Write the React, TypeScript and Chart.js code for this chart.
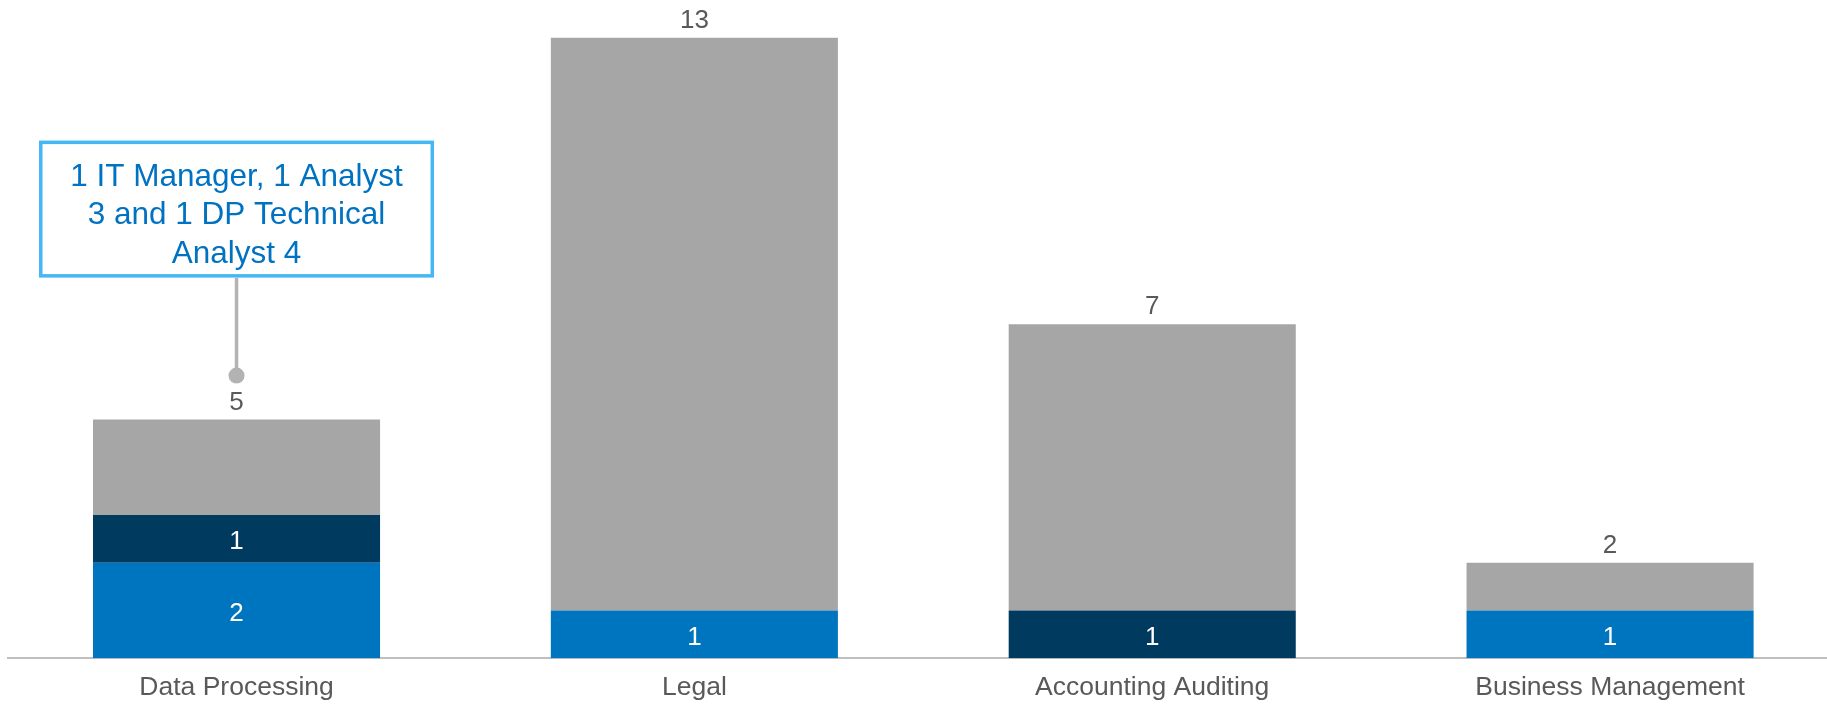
import React, { useEffect, useRef } from "react";
import { Chart, registerables } from "chart.js";

Chart.register(...registerables);

// ---- data ----
const categories = ["Data Processing", "Legal", "Accounting Auditing", "Business Management"];
const blueValues = [2, 1, null, 1];
const navyValues = [1, null, 1, null];
const grayValues = [2, 12, 6, 1];
const annotationLines = ["1 IT Manager, 1 Analyst", "3 and 1 DP Technical", "Analyst 4"];
const annotationCategoryIndex = 0;

// ---- styles ----
const BLUE = "#0075BF";
const NAVY = "#003A5F";
const GRAY = "#A6A6A6";
const TEXT_GRAY = "#595959";
const FONT = "'Liberation Sans', Arial, sans-serif";

const labelsPlugin = {
  id: "labelsPlugin",
  afterDatasetsDraw(chart: any) {
    const ctx = chart.ctx;
    const yScale = chart.scales.y;
    const xScale = chart.scales.x;
    ctx.save();
    ctx.font = `26px ${FONT}`;
    ctx.textAlign = "center";
    ctx.textBaseline = "middle";
    // inner labels for blue and navy
    [0, 1].forEach((di) => {
      const meta = chart.getDatasetMeta(di);
      const data = chart.data.datasets[di].data;
      meta.data.forEach((el: any, i: number) => {
        const v = data[i];
        if (v == null || v === 0) return;
        ctx.fillStyle = "#FFFFFF";
        ctx.fillText(String(v), el.x, (el.y + el.base) / 2 + 3);
      });
    });
    // totals
    categories.forEach((_, i) => {
      const total =
        (blueValues[i] || 0) + (navyValues[i] || 0) + (grayValues[i] || 0);
      const x = xScale.getPixelForValue(i);
      const y = yScale.getPixelForValue(total);
      ctx.fillStyle = TEXT_GRAY;
      ctx.fillText(String(total), x, y - 17);
    });

    // annotation callout
    const ai = annotationCategoryIndex;
    const aTotal =
      (blueValues[ai] || 0) + (navyValues[ai] || 0) + (grayValues[ai] || 0);
    const ax = xScale.getPixelForValue(ai);
    const topY = yScale.getPixelForValue(aTotal);
    const dotY = topY - 44;
    const boxBottom = topY - 142;
    const boxH = 137;
    const boxW = 395;
    const boxTop = boxBottom - boxH;
    const lw = 3.5;
    // connector
    ctx.strokeStyle = "#B3B3B3";
    ctx.lineWidth = 3.5;
    ctx.beginPath();
    ctx.moveTo(ax, boxBottom);
    ctx.lineTo(ax, dotY);
    ctx.stroke();
    ctx.fillStyle = "#B3B3B3";
    ctx.beginPath();
    ctx.arc(ax, dotY, 8, 0, Math.PI * 2);
    ctx.fill();
    // box
    ctx.fillStyle = "#FFFFFF";
    ctx.fillRect(ax - boxW / 2, boxTop, boxW, boxH);
    ctx.strokeStyle = "#45B7F5";
    ctx.lineWidth = lw;
    ctx.strokeRect(ax - boxW / 2 + lw / 2, boxTop + lw / 2, boxW - lw, boxH - lw);
    // text
    ctx.fillStyle = "#0072C1";
    ctx.font = `31.5px ${FONT}`;
    ctx.textBaseline = "alphabetic";
    annotationLines.forEach((line, k) => {
      ctx.fillText(line, ax, boxTop + 45 + k * 38.5);
    });
    ctx.restore();
  },
};

export default function App() {
  const ref = useRef<HTMLCanvasElement | null>(null);
  useEffect(() => {
    document.body.style.margin = "0";
    const canvas = ref.current!;
    const chart = new Chart(canvas, {
      type: "bar",
      data: {
        labels: categories,
        datasets: [
          { label: "Blue", data: blueValues as any, backgroundColor: BLUE },
          { label: "Navy", data: navyValues as any, backgroundColor: NAVY },
          { label: "Gray", data: grayValues as any, backgroundColor: GRAY },
        ],
      },
      options: {
        responsive: false,
        animation: false,
        devicePixelRatio: 1,
        layout: { padding: { left: 7.6, right: 1, top: 14, bottom: 0 } },
        datasets: {
          bar: { barPercentage: 0.627, categoryPercentage: 1 },
        },
        plugins: {
          legend: { display: false },
          tooltip: { enabled: false },
          title: { display: false },
        },
        scales: {
          x: {
            stacked: true,
            grid: { display: false, drawTicks: false },
            border: { display: true, color: "#BFBFBF", width: 2 },
            ticks: {
              color: TEXT_GRAY,
              font: { family: FONT, size: 26.5, lineHeight: 1.2 },
              padding: 14,
              maxRotation: 0,
              autoSkip: false,
            },
          },
          y: {
            stacked: true,
            display: false,
            min: 0,
            max: 13.5,
          },
        },
      },
      plugins: [labelsPlugin],
    });
    return () => chart.destroy();
  }, []);
  return (
    <div
      style={{
        position: "absolute",
        left: 0,
        top: 0,
        width: 1827,
        height: 704,
        overflow: "hidden",
        background: "#FFFFFF",
      }}
    >
      <canvas ref={ref} width={1840} height={718} style={{ display: "block" }} />
    </div>
  );
}
